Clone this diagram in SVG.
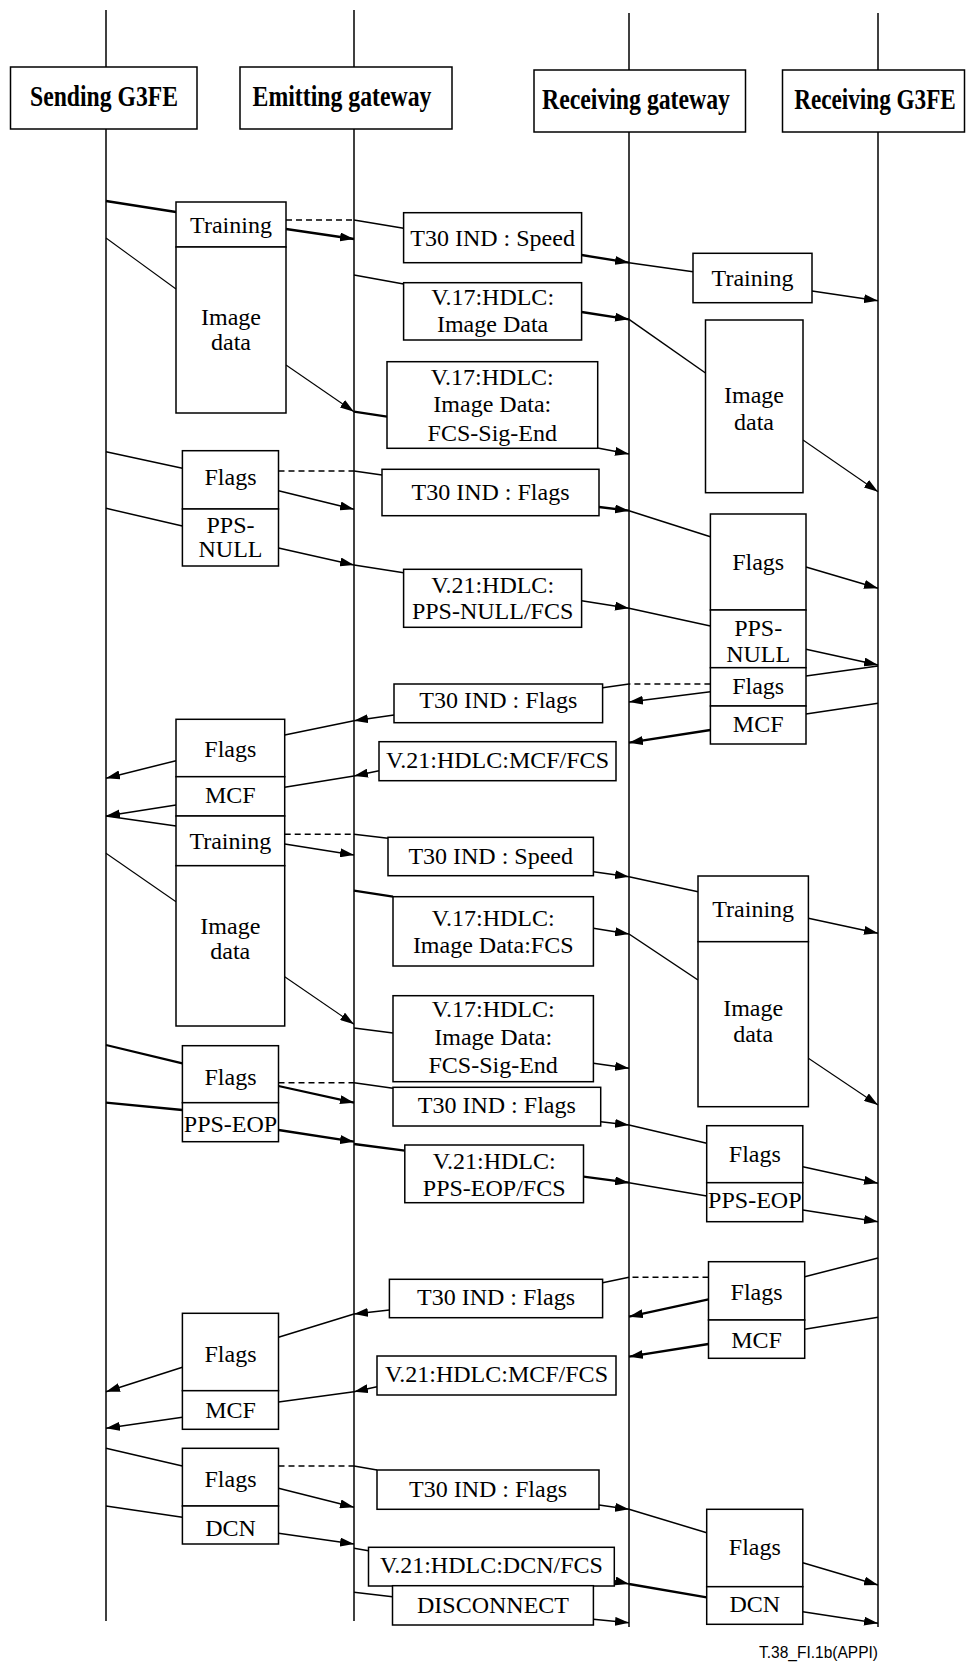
<svg xmlns="http://www.w3.org/2000/svg" width="966" height="1663" viewBox="0 0 966 1663">
<style>
.ln{stroke:#000;stroke-width:1.5;fill:none}
.tk{stroke-width:2.3}
.tn{stroke-width:1.1}
.ds{stroke-dasharray:6 4}
.ar{marker-end:url(#ah)}
.bx{fill:#fff;stroke:#000;stroke-width:1.5}
.t{font-family:"Liberation Serif","Times New Roman",serif;font-size:24px;text-anchor:middle;fill:#000}
.h{font-weight:bold;font-size:29px}
.lab{font-family:"Liberation Sans",Arial,sans-serif;font-size:16px;text-anchor:end;fill:#000}
</style>
<defs>
<marker id="ah" markerUnits="userSpaceOnUse" markerWidth="14" markerHeight="9" refX="14" refY="4.5" orient="auto" viewBox="0 0 14 9"><path d="M0,0 L14,4.5 L0,9 z" fill="#000"/></marker>
</defs>
<rect width="966" height="1663" fill="#fff"/>
<g id="lifelines">
<line class="ln" x1="106" y1="10" x2="106" y2="1621"/>
<line class="ln" x1="354" y1="10" x2="354" y2="1621"/>
<line class="ln" x1="629" y1="13" x2="629" y2="1627"/>
<line class="ln" x1="878" y1="13" x2="878" y2="1627"/>
</g>
<g id="hdr-sending"><rect class="bx" x="10.5" y="67" width="186.5" height="62"/><text class="t h" transform="translate(104 106) scale(0.816 1)">Sending G3FE</text></g>
<g id="hdr-emitting"><rect class="bx" x="240" y="67" width="212" height="62"/><text class="t h" transform="translate(342 106) scale(0.82 1)">Emitting gateway</text></g>
<g id="hdr-rgw"><rect class="bx" x="534" y="70" width="211.5" height="62"/><text class="t h" transform="translate(636 109) scale(0.819 1)">Receiving gateway</text></g>
<g id="hdr-rg3"><rect class="bx" x="782.5" y="70" width="182" height="62"/><text class="t h" transform="translate(875 109) scale(0.8 1)">Receiving G3FE</text></g>

<g id="connectors">
<line class="ln tk" x1="106" y1="201" x2="176" y2="212"/>
<line class="ln tk ar" x1="286" y1="229" x2="354" y2="239"/>
<line class="ln ds" x1="286" y1="220" x2="354" y2="220"/>
<line class="ln" x1="354" y1="220" x2="403.6" y2="228.3"/>
<line class="ln tk ar" x1="581.6" y1="255" x2="629" y2="262.7"/>
<line class="ln" x1="629" y1="262.7" x2="693" y2="271.7"/>
<line class="ln tn" x1="106" y1="238" x2="176" y2="289"/>
<line class="ln" x1="354" y1="275" x2="403.6" y2="284"/>
<line class="ln tk ar" x1="581.6" y1="312" x2="629" y2="319.3"/>
<line class="ln" x1="629" y1="319.3" x2="705.5" y2="373"/>
<line class="ln ar" x1="812" y1="291" x2="878" y2="300.7"/>
<line class="ln tn ar" x1="286" y1="365" x2="354" y2="411.7"/>
<line class="ln tk" x1="354" y1="411.7" x2="387" y2="416.7"/>
<line class="ln ar" x1="597.7" y1="448" x2="629" y2="454"/>
<line class="ln tn ar" x1="803" y1="440" x2="878" y2="491.7"/>

<line class="ln" x1="106" y1="451.7" x2="182.4" y2="468.3"/>
<line class="ln ds" x1="278.5" y1="471" x2="354" y2="471"/>
<line class="ln" x1="354" y1="471" x2="382" y2="475"/>
<line class="ln ar" x1="278.5" y1="490.7" x2="354" y2="509.3"/>
<line class="ln" x1="106" y1="508.3" x2="182.4" y2="526"/>
<line class="ln ar" x1="278.5" y1="548" x2="354" y2="565"/>
<line class="ln" x1="354" y1="565" x2="403.6" y2="572.7"/>
<line class="ln tk ar" x1="599" y1="507" x2="629" y2="510.7"/>
<line class="ln" x1="629" y1="510.7" x2="710.4" y2="536.7"/>
<line class="ln ar" x1="581.6" y1="600.7" x2="629" y2="608.3"/>
<line class="ln" x1="629" y1="608.3" x2="710.4" y2="626"/>
<line class="ln ar" x1="806" y1="567" x2="878" y2="588.3"/>
<line class="ln ar" x1="806" y1="649.3" x2="878" y2="665"/>

<line class="ln" x1="878" y1="666" x2="806" y2="676"/>
<line class="ln ds" x1="710.4" y1="684" x2="629" y2="684"/>
<line class="ln" x1="629" y1="684" x2="602.6" y2="687.7"/>
<line class="ln ar" x1="710.4" y1="691.7" x2="629" y2="702"/>
<line class="ln" x1="878" y1="703.3" x2="806" y2="714"/>
<line class="ln tk ar" x1="710.4" y1="730" x2="629" y2="742.7"/>
<line class="ln ar" x1="394" y1="715" x2="354" y2="720.7"/>
<line class="ln" x1="354" y1="720.7" x2="284.7" y2="735"/>
<line class="ln ar" x1="176" y1="760.7" x2="106" y2="778.3"/>
<line class="ln ar" x1="379" y1="770.7" x2="354" y2="776"/>
<line class="ln" x1="354" y1="776" x2="284.7" y2="787.3"/>
<line class="ln ar" x1="176" y1="805" x2="106" y2="816"/>

<line class="ln" x1="106" y1="816" x2="176" y2="826"/>
<line class="ln ds" x1="284.7" y1="834.3" x2="354" y2="834.3"/>
<line class="ln" x1="354" y1="834.3" x2="388" y2="838.3"/>
<line class="ln ar" x1="284.7" y1="844" x2="354" y2="855"/>
<line class="ln ar" x1="593.4" y1="871.7" x2="629" y2="876.7"/>
<line class="ln" x1="629" y1="876.7" x2="698" y2="891.7"/>
<line class="ln ar" x1="808.4" y1="918.3" x2="878" y2="933.3"/>
<line class="ln tn" x1="106" y1="853.3" x2="176" y2="901.7"/>
<line class="ln tk" x1="354" y1="890.7" x2="393" y2="896.7"/>
<line class="ln ar" x1="593.4" y1="928.3" x2="629" y2="934"/>
<line class="ln" x1="629" y1="934" x2="698" y2="980"/>
<line class="ln tn ar" x1="284.7" y1="976.7" x2="354" y2="1024.3"/>
<line class="ln" x1="354" y1="1028" x2="393" y2="1033"/>
<line class="ln ar" x1="593.4" y1="1063.3" x2="629" y2="1068.3"/>
<line class="ln tn ar" x1="808.4" y1="1058.3" x2="878" y2="1105"/>

<line class="ln tk" x1="106" y1="1045" x2="182.4" y2="1063.3"/>
<line class="ln ds" x1="278.5" y1="1082.7" x2="354" y2="1082.7"/>
<line class="ln" x1="354" y1="1082.7" x2="393" y2="1088.3"/>
<line class="ln tk ar" x1="278.5" y1="1086" x2="354" y2="1102.7"/>
<line class="ln tk" x1="106" y1="1102.7" x2="182.4" y2="1110"/>
<line class="ln ar" x1="600.7" y1="1121.7" x2="629" y2="1125"/>
<line class="ln" x1="629" y1="1125" x2="706.7" y2="1143.3"/>
<line class="ln tk ar" x1="278.5" y1="1130" x2="354" y2="1141.7"/>
<line class="ln tk" x1="354" y1="1144" x2="404.8" y2="1150.7"/>
<line class="ln tk ar" x1="583.5" y1="1176.7" x2="629" y2="1182.7"/>
<line class="ln" x1="629" y1="1182.7" x2="706.7" y2="1196"/>
<line class="ln ar" x1="802.8" y1="1166.7" x2="878" y2="1183.3"/>
<line class="ln ar" x1="802.8" y1="1210" x2="878" y2="1221.7"/>

<line class="ln" x1="878" y1="1258" x2="804.7" y2="1276.7"/>
<line class="ln ds" x1="708.5" y1="1277.3" x2="629" y2="1277.3"/>
<line class="ln" x1="629" y1="1277.3" x2="602.6" y2="1282.7"/>
<line class="ln tk ar" x1="708.5" y1="1299.3" x2="629" y2="1316.7"/>
<line class="ln" x1="878" y1="1317.3" x2="804.7" y2="1329.3"/>
<line class="ln tk ar" x1="708.5" y1="1344" x2="629" y2="1356.7"/>
<line class="ln ar" x1="389.4" y1="1310" x2="354" y2="1314"/>
<line class="ln" x1="354" y1="1314" x2="278.5" y2="1337.3"/>
<line class="ln ar" x1="182.4" y1="1367.3" x2="106" y2="1391.7"/>
<line class="ln ar" x1="377" y1="1386.7" x2="354" y2="1391.7"/>
<line class="ln" x1="354" y1="1391.7" x2="278.5" y2="1402"/>
<line class="ln ar" x1="182.4" y1="1417.3" x2="106" y2="1428.3"/>

<line class="ln" x1="106" y1="1448.3" x2="182.4" y2="1466"/>
<line class="ln ds" x1="278.5" y1="1466" x2="354" y2="1466"/>
<line class="ln" x1="354" y1="1466" x2="377" y2="1470"/>
<line class="ln ar" x1="278.5" y1="1488.3" x2="354" y2="1507.3"/>
<line class="ln ar" x1="599" y1="1505" x2="629" y2="1509.3"/>
<line class="ln" x1="629" y1="1509.3" x2="706.7" y2="1532.7"/>
<line class="ln" x1="106" y1="1506" x2="182.4" y2="1517.3"/>
<line class="ln ar" x1="278.5" y1="1533.3" x2="354" y2="1544"/>
<line class="ln" x1="354" y1="1548.3" x2="368.5" y2="1550.7"/>
<line class="ln" x1="354" y1="1592.3" x2="392.5" y2="1596.7"/>
<line class="ln ar" x1="614.3" y1="1580.7" x2="629" y2="1584"/>
<line class="ln tk" x1="629" y1="1584" x2="706.7" y2="1597.3"/>
<line class="ln ar" x1="593.4" y1="1619.3" x2="629" y2="1622.7"/>
<line class="ln ar" x1="802.8" y1="1562.7" x2="878" y2="1585"/>
<line class="ln ar" x1="802.8" y1="1611.7" x2="878" y2="1623.3"/>
</g>

<g id="s1"><rect class="bx" x="176" y="202" width="110" height="45"/><text class="t" x="231" y="232.7">Training</text><rect class="bx" x="176" y="247" width="110" height="166"/><text class="t" x="231" y="325">Image</text><text class="t" x="231" y="350">data</text></g>
<g id="m1"><rect class="bx" x="403.6" y="212.7" width="178" height="50"/><text class="t" x="492.6" y="246">T30 IND : Speed</text></g>
<g id="r1"><rect class="bx" x="693" y="253.3" width="119" height="49.4"/><text class="t" x="752.5" y="286">Training</text></g>
<g id="m2"><rect class="bx" x="403.6" y="282.7" width="178" height="57.3"/><text class="t" x="492.6" y="305">V.17:HDLC:</text><text class="t" x="492.6" y="331.7">Image Data</text></g>
<g id="r2"><rect class="bx" x="705.5" y="320" width="97.5" height="172.7"/><text class="t" x="754" y="403">Image</text><text class="t" x="754" y="430">data</text></g>
<g id="m3"><rect class="bx" x="387" y="361.7" width="210.7" height="86.6"/><text class="t" x="492.3" y="385">V.17:HDLC:</text><text class="t" x="492.3" y="411.7">Image Data:</text><text class="t" x="492.3" y="440.7">FCS-Sig-End</text></g>

<g id="s2"><rect class="bx" x="182.4" y="450.7" width="96.1" height="58.3"/><text class="t" x="230.5" y="485">Flags</text><rect class="bx" x="182.4" y="509" width="96.1" height="57"/><text class="t" x="230.5" y="533">PPS-</text><text class="t" x="230.5" y="556.7">NULL</text></g>
<g id="m4"><rect class="bx" x="382" y="469.3" width="217" height="46.4"/><text class="t" x="490.5" y="500">T30 IND : Flags</text></g>
<g id="m5"><rect class="bx" x="403.6" y="569.3" width="178" height="58"/><text class="t" x="492.6" y="592.7">V.21:HDLC:</text><text class="t" x="492.6" y="619.3">PPS-NULL/FCS</text></g>
<g id="r3"><rect class="bx" x="710.4" y="514" width="95.6" height="96"/><text class="t" x="758.2" y="570">Flags</text><rect class="bx" x="710.4" y="610" width="95.6" height="57.7"/><text class="t" x="758.2" y="636">PPS-</text><text class="t" x="758.2" y="661.7">NULL</text><rect class="bx" x="710.4" y="667.7" width="95.6" height="38.3"/><text class="t" x="758.2" y="694">Flags</text><rect class="bx" x="710.4" y="706" width="95.6" height="38"/><text class="t" x="758.2" y="731.7">MCF</text></g>
<g id="m6"><rect class="bx" x="394" y="684" width="208.6" height="38.7"/><text class="t" x="498.3" y="708">T30 IND : Flags</text></g>
<g id="m7"><rect class="bx" x="379" y="741.7" width="237" height="39"/><text class="t" x="497.5" y="768.3">V.21:HDLC:MCF/FCS</text></g>
<g id="s3"><rect class="bx" x="176" y="719.3" width="108.7" height="57.4"/><text class="t" x="230.3" y="756.7">Flags</text><rect class="bx" x="176" y="776.7" width="108.7" height="39.3"/><text class="t" x="230.3" y="803.3">MCF</text><rect class="bx" x="176" y="816" width="108.7" height="49.7"/><text class="t" x="230.3" y="849">Training</text><rect class="bx" x="176" y="865.7" width="108.7" height="160.3"/><text class="t" x="230.3" y="934">Image</text><text class="t" x="230.3" y="959.3">data</text></g>
<g id="m8"><rect class="bx" x="388" y="837.3" width="205.4" height="38.4"/><text class="t" x="490.7" y="864">T30 IND : Speed</text></g>
<g id="r4"><rect class="bx" x="698" y="876" width="110.4" height="65.7"/><text class="t" x="753.2" y="916.7">Training</text><rect class="bx" x="698" y="941.7" width="110.4" height="165"/><text class="t" x="753.2" y="1016">Image</text><text class="t" x="753.2" y="1041.7">data</text></g>
<g id="m9"><rect class="bx" x="393" y="896.7" width="200.4" height="69.3"/><text class="t" x="493.2" y="926">V.17:HDLC:</text><text class="t" x="493.2" y="952.7">Image Data:FCS</text></g>
<g id="m10"><rect class="bx" x="393" y="995.7" width="200.4" height="86"/><text class="t" x="493.2" y="1017.3">V.17:HDLC:</text><text class="t" x="493.2" y="1045">Image Data:</text><text class="t" x="493.2" y="1072.7">FCS-Sig-End</text></g>

<g id="s4"><rect class="bx" x="182.4" y="1045.7" width="96.1" height="57"/><text class="t" x="230.5" y="1085">Flags</text><rect class="bx" x="182.4" y="1102.7" width="96.1" height="39"/><text class="t" x="230.5" y="1131.7">PPS-EOP</text></g>
<g id="m11"><rect class="bx" x="393" y="1087.3" width="207.7" height="38.7"/><text class="t" x="496.8" y="1113.3">T30 IND : Flags</text></g>
<g id="m12"><rect class="bx" x="404.8" y="1145" width="178.7" height="57.7"/><text class="t" x="494.2" y="1169.3">V.21:HDLC:</text><text class="t" x="494.2" y="1196">PPS-EOP/FCS</text></g>
<g id="r5"><rect class="bx" x="706.7" y="1125.7" width="96.1" height="57"/><text class="t" x="754.8" y="1161.7">Flags</text><rect class="bx" x="706.7" y="1182.7" width="96.1" height="39"/><text class="t" x="754.8" y="1208.3">PPS-EOP</text></g>

<g id="r6"><rect class="bx" x="708.5" y="1261.7" width="96.2" height="58.3"/><text class="t" x="756.6" y="1300">Flags</text><rect class="bx" x="708.5" y="1320" width="96.2" height="38.3"/><text class="t" x="756.6" y="1348.3">MCF</text></g>
<g id="m13"><rect class="bx" x="389.4" y="1279.3" width="213.2" height="38.4"/><text class="t" x="496" y="1305">T30 IND : Flags</text></g>
<g id="m14"><rect class="bx" x="377" y="1356" width="239" height="39"/><text class="t" x="496.5" y="1381.7">V.21:HDLC:MCF/FCS</text></g>
<g id="s5"><rect class="bx" x="182.4" y="1313.3" width="96.1" height="77.4"/><text class="t" x="230.5" y="1361.7">Flags</text><rect class="bx" x="182.4" y="1390.7" width="96.1" height="38.6"/><text class="t" x="230.5" y="1418.3">MCF</text></g>

<g id="s6"><rect class="bx" x="182.4" y="1448.3" width="96.1" height="57.7"/><text class="t" x="230.5" y="1487.3">Flags</text><rect class="bx" x="182.4" y="1506" width="96.1" height="38"/><text class="t" x="230.5" y="1536">DCN</text></g>
<g id="m15"><rect class="bx" x="377" y="1470" width="222" height="39.3"/><text class="t" x="488" y="1497.3">T30 IND : Flags</text></g>
<g id="m16"><rect class="bx" x="368.5" y="1547.3" width="245.8" height="38.7"/><text class="t" x="491.4" y="1573.3">V.21:HDLC:DCN/FCS</text></g>
<g id="m17"><rect class="bx" x="392.5" y="1585.7" width="200.9" height="39.3"/><text class="t" x="493" y="1612.7">DISCONNECT</text></g>
<g id="r7"><rect class="bx" x="706.7" y="1509.3" width="96.1" height="77.4"/><text class="t" x="754.8" y="1555">Flags</text><rect class="bx" x="706.7" y="1586.7" width="96.1" height="37.6"/><text class="t" x="754.8" y="1611.7">DCN</text></g>

<text class="lab" transform="translate(878 1658) scale(0.97 1)">T.38_FI.1b(APPI)</text>
</svg>
